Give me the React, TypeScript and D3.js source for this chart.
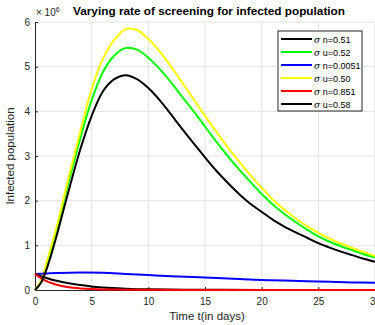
import {useEffect, useRef} from 'react';
import * as d3 from 'd3';

// data (t in days, value in millions)
const tBig = [0, 0.5, 1, 1.5, 2, 3, 4, 5, 6, 7, 8, 9, 10, 11, 12, 13, 14, 15, 16, 17, 18, 19, 20, 21, 22, 23, 24, 25, 26, 27, 28, 29, 30];
const blackN = [0, 0.15, 0.45, 0.85, 1.3, 2.25, 3.15, 3.9, 4.45, 4.72, 4.81, 4.72, 4.52, 4.25, 3.93, 3.6, 3.28, 2.97, 2.67, 2.4, 2.15, 1.93, 1.75, 1.57, 1.42, 1.29, 1.17, 1.05, 0.95, 0.86, 0.78, 0.7, 0.63];
const greenU = [0, 0.17, 0.52, 0.97, 1.45, 2.45, 3.4, 4.25, 4.88, 5.25, 5.42, 5.38, 5.2, 4.95, 4.65, 4.32, 4.0, 3.66, 3.32, 3.0, 2.7, 2.42, 2.15, 1.91, 1.7, 1.52, 1.35, 1.2, 1.08, 0.98, 0.89, 0.8, 0.73];
const yellowU = [0, 0.2, 0.6, 1.03, 1.5, 2.55, 3.55, 4.5, 5.18, 5.6, 5.84, 5.82, 5.62, 5.34, 5.0, 4.64, 4.27, 3.9, 3.54, 3.2, 2.88, 2.57, 2.29, 2.02, 1.8, 1.6, 1.43, 1.28, 1.15, 1.04, 0.94, 0.85, 0.76];
const tBlue = [0, 1, 2, 4, 6, 8, 10, 12, 15, 18, 20, 22, 25, 28, 30];
const blueN = [0.36, 0.37, 0.38, 0.39, 0.385, 0.36, 0.335, 0.31, 0.28, 0.245, 0.225, 0.21, 0.19, 0.17, 0.16];
const tSmall = [0, 0.5, 1, 1.5, 2, 3, 4, 5, 6, 8, 10, 15, 20, 30];
const redN = [0.36, 0.27, 0.2, 0.15, 0.11, 0.06, 0.035, 0.02, 0.013, 0.008, 0.005, 0.002, 0.001, 0];
const blackU = [0.36, 0.31, 0.27, 0.23, 0.2, 0.15, 0.11, 0.08, 0.055, 0.03, 0.015, 0.005, 0.002, 0];

const legendNames = ['n=0.51', 'u=0.52', 'n=0.0051', 'u=0.50', 'n=0.851', 'u=0.58'];
const legendColors = ['#000000', '#00ff00', '#0000ff', '#ffff00', '#ff0000', '#000000'];
const xTicks = [0, 5, 10, 15, 20, 25, 30];
const yTicks = [0, 1, 2, 3, 4, 5, 6];

// parameters
const width = 375;
const height = 325;
const margin = {left: 35, right: 0, top: 22, bottom: 35};
const font = 'Liberation Sans, Arial, sans-serif';
const tickColor = '#262626';

export default function App() {
  const ref = useRef(null);
  useEffect(() => {
    if (!ref.current) return;
    const svg = d3.select(ref.current);
    svg.selectAll('*').remove();

    const x = d3.scaleLinear().domain([0, 30]).range([margin.left, width - margin.right]);
    const y = d3.scaleLinear().domain([0, 6]).range([height - margin.bottom, margin.top]);

    // grid
    svg.append('g')
      .selectAll('line')
      .data(xTicks.slice(1))
      .enter()
      .append('line')
      .attr('x1', d => x(d)).attr('x2', d => x(d))
      .attr('y1', y(0)).attr('y2', y(6))
      .attr('stroke', '#e3e3e3').attr('stroke-width', 1);
    svg.append('g')
      .selectAll('line')
      .data(yTicks.slice(1))
      .enter()
      .append('line')
      .attr('x1', x(0)).attr('x2', x(30))
      .attr('y1', d => y(d)).attr('y2', d => y(d))
      .attr('stroke', '#e3e3e3').attr('stroke-width', 1);

    // axes
    const xAxis = svg.append('g')
      .attr('transform', `translate(0,${y(0)})`)
      .call(d3.axisBottom(x).tickValues(xTicks).tickFormat(d3.format('d')).tickSize(-3).tickPadding(8));
    const yAxis = svg.append('g')
      .attr('transform', `translate(${x(0)},0)`)
      .call(d3.axisLeft(y).tickValues(yTicks).tickFormat(d3.format('d')).tickSize(-3).tickPadding(5));
    [xAxis, yAxis].forEach(a => {
      a.select('.domain').attr('stroke', tickColor).attr('stroke-width', 1);
      a.selectAll('.tick line').attr('stroke', tickColor);
      a.selectAll('.tick text')
        .attr('fill', tickColor)
        .style('font-family', font)
        .style('font-size', '10px');
    });

    // curves
    const line = d3.line<[number, number]>()
      .x(d => x(d[0]))
      .y(d => y(d[1]))
      .curve(d3.curveCatmullRom.alpha(0.5));
    const series: {t: number[], v: number[], c: string}[] = [
      {t: tBig, v: greenU, c: legendColors[1]},
      {t: tBig, v: yellowU, c: legendColors[3]},
      {t: tBlue, v: blueN, c: legendColors[2]},
      {t: tSmall, v: blackU, c: legendColors[5]},
      {t: tSmall, v: redN, c: legendColors[4]},
      {t: tBig, v: blackN, c: legendColors[0]},
    ];
    series.forEach(s => {
      svg.append('path')
        .attr('d', line(s.t.map((t, i) => [t, s.v[i]] as [number, number])))
        .attr('fill', 'none')
        .attr('stroke', s.c)
        .attr('stroke-width', 2);
    });

    // exponent label
    const exp = svg.append('text')
      .attr('x', 36).attr('y', 16)
      .style('font-family', font).style('font-size', '10px')
      .attr('fill', tickColor);
    exp.append('tspan').text('× 10');
    exp.append('tspan').attr('dy', -4).style('font-size', '7px').text('6');

    // title
    svg.append('text')
      .attr('x', 209).attr('y', 15)
      .attr('text-anchor', 'middle')
      .style('font-family', font).style('font-size', '11.8px').style('font-weight', 'bold')
      .attr('fill', '#000')
      .text('Varying rate of screening for infected population');

    // axis labels
    svg.append('text')
      .attr('x', 207).attr('y', 320)
      .attr('text-anchor', 'middle')
      .style('font-family', font).style('font-size', '11.5px')
      .attr('fill', tickColor)
      .text('Time t(in days)');
    svg.append('text')
      .attr('transform', `translate(14,${(y(0) + y(6)) / 2}) rotate(-90)`)
      .attr('text-anchor', 'middle')
      .style('font-family', font).style('font-size', '11.5px')
      .attr('fill', tickColor)
      .text('Infected population');

    // legend
    const lg = svg.append('g').attr('transform', 'translate(278,31)');
    lg.append('rect')
      .attr('x', 0).attr('y', 0).attr('width', 84).attr('height', 80)
      .attr('fill', 'white').attr('stroke', '#262626').attr('stroke-width', 1);
    const items = lg.selectAll('g.item')
      .data(legendNames)
      .enter()
      .append('g')
      .attr('transform', (d, i) => `translate(0,${8 + i * 13})`);
    items.append('line')
      .attr('x1', 3).attr('x2', 34)
      .attr('stroke', (d, i) => legendColors[i])
      .attr('stroke-width', 2);
    const lt = items.append('text')
      .attr('x', 36).attr('y', 3.5)
      .style('font-family', font).style('font-size', '9px')
      .attr('fill', '#000');
    lt.append('tspan').style('font-style', 'italic').style('font-family', 'DejaVu Serif, serif').text('σ');
    lt.append('tspan').text(d => ' ' + d);
  }, [ref]);
  return <svg ref={ref} width={width} height={height} style={{position: 'absolute', left: 0, top: 0}} />;
}
